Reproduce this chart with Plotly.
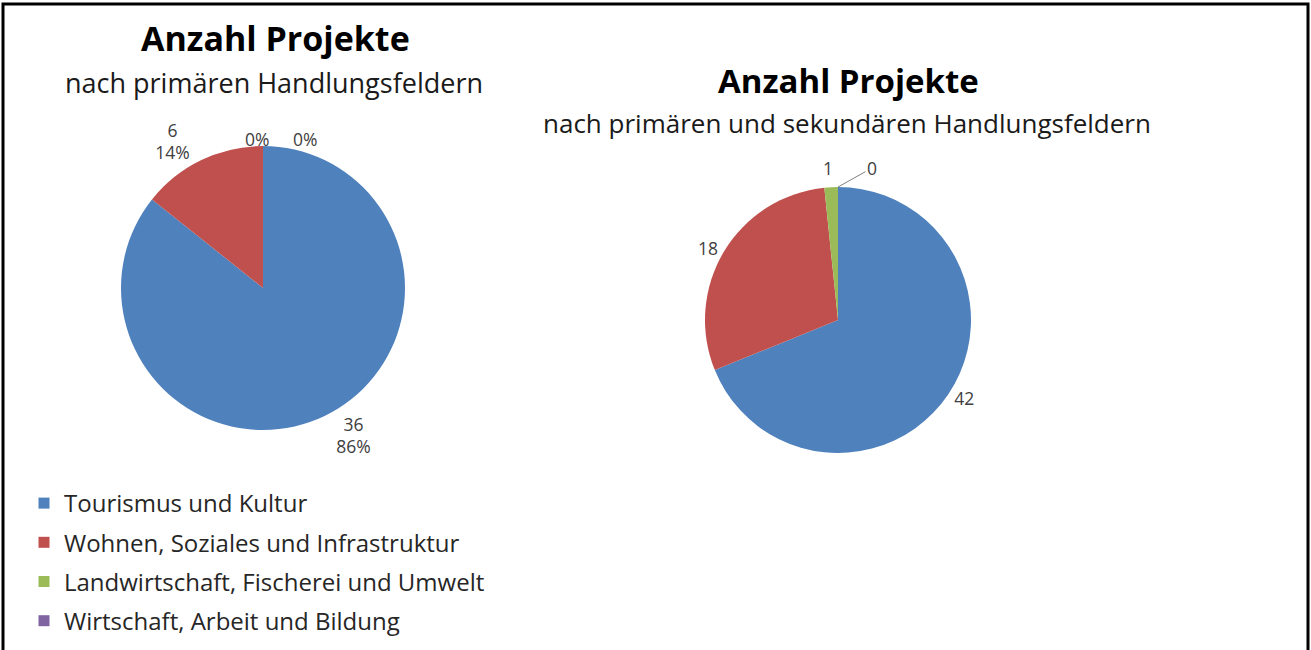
import plotly.graph_objects as go

categories = ["Tourismus und Kultur", "Wohnen, Soziales und Infrastruktur",
              "Landwirtschaft, Fischerei und Umwelt", "Wirtschaft, Arbeit und Bildung"]
primary_values = [36, 6, 0, 0]
combined_values = [42, 18, 1, 0]
colors = ["#4F81BD", "#C0504D", "#9BBB59", "#8064A2"]

W, H = 1311, 650
FONT = "Open Sans"
LABEL_COLOR = "#404040"


def pct(v, vals):
    return round(100 * v / sum(vals))


def small(v, vals):
    return v / sum(vals) < 0.03


# templates: big slices labelled by plotly, tiny slices via annotations
left_tpl = ["" if small(v, primary_values) else "%{value}<br>%{percent:.0%}" for v in primary_values]
right_tpl = ["" if small(v, combined_values) else "%{value}" for v in combined_values]

fig = go.Figure()

fig.add_trace(go.Pie(
    labels=categories, values=primary_values, sort=False, direction="clockwise",
    rotation=0, marker=dict(colors=colors), showlegend=False,
    textposition="outside", texttemplate=left_tpl,
    textfont=dict(family=FONT, size=17.5, color=LABEL_COLOR),
    domain=dict(x=[121 / W, 405 / W], y=[(H - 430) / H, (H - 146) / H]),
    hoverinfo="label+value+percent",
))

fig.add_trace(go.Pie(
    labels=categories, values=combined_values, sort=False, direction="clockwise",
    rotation=0, marker=dict(colors=colors), showlegend=False,
    textposition="outside", texttemplate=right_tpl,
    textfont=dict(family=FONT, size=17.5, color=LABEL_COLOR),
    domain=dict(x=[705 / W, 971 / W], y=[(H - 453) / H, (H - 187) / H]),
    hoverinfo="label+value+percent",
))

for i, (cat, col) in enumerate(zip(categories, colors)):
    fig.add_trace(go.Scatter(
        x=[None], y=[None], mode="markers", name=cat,
        marker=dict(symbol="square", size=11, color=col),
        legendgroup=f"g{i}", showlegend=True,
    ))

fig.update_xaxes(visible=False)
fig.update_yaxes(visible=False)

annotations = [
    dict(text="<b>Anzahl Projekte</b>", x=275 / W, y=(H - 38) / H, font=dict(size=34, color="black")),
    dict(text="nach primären Handlungsfeldern", x=274 / W, y=(H - 82) / H, font=dict(size=27, color="#1a1a1a")),
    dict(text="<b>Anzahl Projekte</b>", x=848 / W, y=(H - 80) / H, font=dict(size=33, color="black")),
    dict(text="nach primären und sekundären Handlungsfeldern", x=847 / W, y=(H - 123) / H, font=dict(size=26, color="#1a1a1a")),
]

# labels of the tiny slices (placed like the original's outside labels)
annotations += [
    dict(text=f"{pct(primary_values[2], primary_values)}%", x=257 / W, y=(H - 139) / H),
    dict(text=f"{pct(primary_values[3], primary_values)}%", x=305 / W, y=(H - 139) / H),
    dict(text=f"{combined_values[2]}", x=828 / W, y=(H - 168) / H),
]
for a in annotations:
    a.update(xref="paper", yref="paper", showarrow=False, xanchor="center", yanchor="middle")
    a.setdefault("font", dict(size=17.5, color=LABEL_COLOR))
    a["font"]["family"] = FONT

annotations.append(
    dict(text=f"{combined_values[3]}", x=838 / W, y=(H - 187) / H,
         xref="paper", yref="paper", showarrow=True,
         font=dict(family=FONT, size=17.5, color=LABEL_COLOR),
         ax=34, ay=-19, arrowhead=0, arrowwidth=1, arrowcolor="#7f7f7f")
)

fig.update_layout(
    width=W, height=H,
    margin=dict(l=0, r=0, t=0, b=0),
    paper_bgcolor="white", plot_bgcolor="white",
    font=dict(family=FONT, color="#262626"),
    annotations=annotations,
    legend=dict(x=24 / W, y=(H - 481) / H, xanchor="left", yanchor="top",
                font=dict(family=FONT, size=24, color="#262626"),
                tracegroupgap=5, bgcolor="rgba(0,0,0,0)"),
    shapes=[dict(type="rect", xref="paper", yref="paper",
                 x0=3 / W, x1=1308 / W, y0=-5 / H, y1=(H - 4) / H,
                 line=dict(color="black", width=3))],
)

fig.write_html("out.html", config={"displayModeBar": False},
               post_script="document.body.style.margin='0';")
